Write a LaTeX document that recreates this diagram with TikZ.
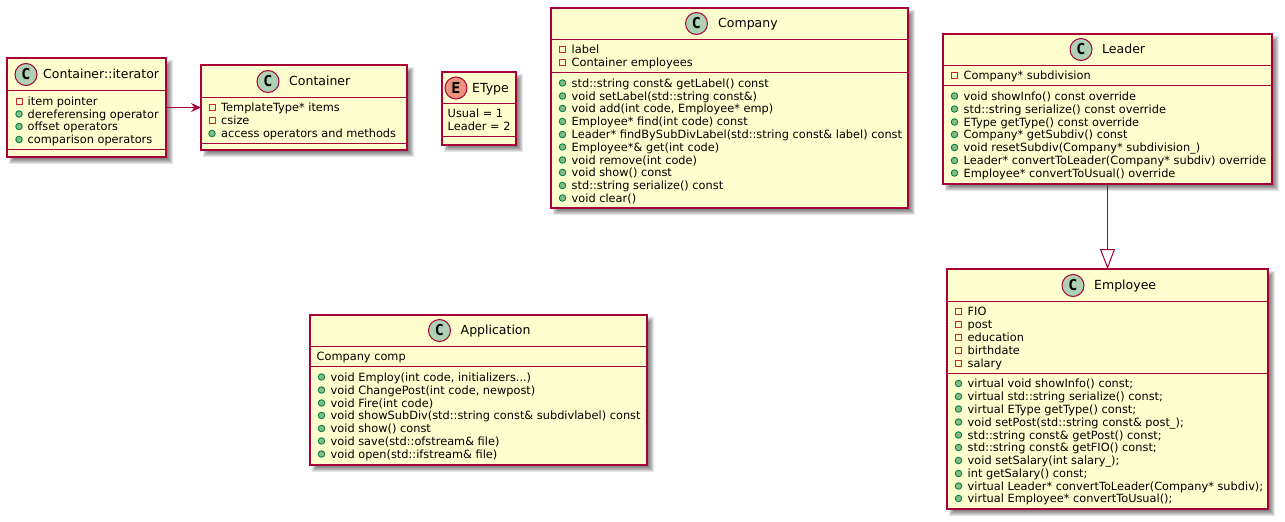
\documentclass[tikz,border=0pt]{standalone}
\usepackage{fontspec}
\setmainfont{DejaVu Sans}
\newfontfamily\letterfont{DejaVu Sans Mono}
\usetikzlibrary{arrows.meta}
\definecolor{umlborder}{HTML}{A80036}
\definecolor{umlfill}{HTML}{FEFECE}
\definecolor{umlcircle}{HTML}{ADD1B2}
\definecolor{umlenum}{HTML}{EB937F}
\definecolor{privred}{HTML}{C82930}
\definecolor{pubfill}{HTML}{84BE84}
\definecolor{publine}{HTML}{038048}
\tikzset{
  classbox/.style={draw=umlborder,line width=1.25pt,fill=umlfill,inner sep=0pt,outer sep=0pt},
  sepline/.style={draw=umlborder,line width=.9pt},
  shadowlayer/.style={fill=black,opacity=.1,draw=none},
  badge/.style={circle,draw=umlborder,line width=1pt,minimum size=22pt,inner sep=0pt,text=black,font=\letterfont\bfseries\fontsize{15}{15}\selectfont},
  titletext/.style={anchor=base west,inner sep=0pt,font=\fontsize{12.5}{14}\selectfont},
  rowtext/.style={anchor=base west,inner sep=0pt,font=\fontsize{11.35}{13}\selectfont},
  privicon/.style={rectangle,draw=privred,line width=.9pt,minimum size=6pt,inner sep=0pt},
  pubicon/.style={circle,draw=publine,fill=pubfill,line width=.9pt,minimum size=6.5pt,inner sep=0pt},
  assoc/.style={draw=umlborder,line width=1pt,-{Stealth[length=10pt,width=9pt,inset=3.5pt]}},
  inherit/.style={draw=umlborder,line width=1pt,-{Triangle[open,fill=white,length=20pt,width=15pt]}},
}
\newcounter{rowno}
% name x0 y0 x1 y1 sep1 sep2
\newcommand{\umlbox}[7]{%
  \pgfmathsetmacro{\bw}{#4-#2}\pgfmathsetmacro{\bh}{#5-#3}%
  \pgfmathsetmacro{\bx}{(#2+#4)/2}\pgfmathsetmacro{\by}{(#3+#5)/2}%
  \foreach \e in {0,1,2,3,4,5}{%
    \fill[shadowlayer] (#2+1.5+\e,#3+1.5+\e) rectangle (#4+7-\e,#5+7-\e);}%
  \node[classbox,minimum width=\bw pt,minimum height=\bh pt] (#1) at (\bx,\by) {};%
  \draw[sepline] (#2,#6) -- (#4,#6);%
  \draw[sepline] (#2,#7) -- (#4,#7);%
}
% name colour cx cy letter
\newcommand{\umlbadge}[5]{\node[badge,fill=#2] (#1) at (#3,#4) {#5};}
% name x y text
\newcommand{\umltitle}[4]{\node[titletext] (#1) at (#2,#3+4.2) {#4};}
% iconx textx y text
\newcommand{\privrow}[4]{\stepcounter{rowno}%
  \node[privicon] (pi\therowno) at (#1,#3) {};%
  \node[rowtext] (pt\therowno) at (#2,#3+4.3) {#4};}
\newcommand{\pubrow}[4]{\stepcounter{rowno}%
  \node[pubicon] (mi\therowno) at (#1,#3) {};%
  \node[rowtext] (mt\therowno) at (#2,#3+4.3) {#4};}
\newcommand{\plainrow}[3]{\stepcounter{rowno}%
  \node[rowtext] (tt\therowno) at (#1,#2+4.3) {#3};}
\begin{document}
\begin{tikzpicture}[x=1pt,y=-1pt]
\useasboundingbox (0,0) rectangle (1285,522);
% Container::iterator
\umlbox{iter}{7}{58}{166}{157}{90}{149}
\umlbadge{iterC}{umlcircle}{26}{74.5}{C}
\umltitle{iterT}{43}{74.5}{Container::iterator}
\privrow{19}{27.5}{101.5}{item pointer}
\pubrow{19}{27.5}{114}{dereferensing operator}
\pubrow{19}{27.5}{126.5}{offset operators}
\pubrow{19}{27.5}{139.5}{comparison operators}
% Container
\umlbox{cont}{201}{65}{407}{150}{97}{143}
\umlbadge{contC}{umlcircle}{268}{81.5}{C}
\umltitle{contT}{289}{81.5}{Container}
\privrow{212}{221}{107.5}{TemplateType* items}
\privrow{212}{221}{120.5}{csize}
\pubrow{212}{221}{133.5}{access operators and methods}
% EType
\umlbox{etype}{442}{72}{516}{145}{103}{136}
\umlbadge{etypeE}{umlenum}{456}{88}{E}
\umltitle{etypeT}{472}{88}{EType}
\plainrow{447.5}{113.5}{Usual = 1}
\plainrow{447.5}{126.5}{Leader = 2}
% Company
\umlbox{comp}{551}{8}{908}{208}{39}{72}
\umlbadge{compC}{umlcircle}{696.5}{23.5}{C}
\umltitle{compT}{718}{23.5}{Company}
\privrow{562.5}{571.5}{49.5}{label}
\privrow{562.5}{571.5}{62.5}{Container employees}
\pubrow{562.5}{571.5}{83}{std::string const\& getLabel() const}
\pubrow{562.5}{571.5}{96}{void setLabel(std::string const\&)}
\pubrow{562.5}{571.5}{108.5}{void add(int code, Employee* emp)}
\pubrow{562.5}{571.5}{121.5}{Employee* find(int code) const}
\pubrow{562.5}{571.5}{134.5}{Leader* findBySubDivLabel(std::string const\& label) const}
\pubrow{562.5}{571.5}{147}{Employee*\& get(int code)}
\pubrow{562.5}{571.5}{160}{void remove(int code)}
\pubrow{562.5}{571.5}{172.5}{void show() const}
\pubrow{562.5}{571.5}{185.5}{std::string serialize() const}
\pubrow{562.5}{571.5}{198}{void clear()}
% Leader
\umlbox{lead}{943}{34}{1272}{184}{65}{85}
\umlbadge{leadC}{umlcircle}{1081}{49.5}{C}
\umltitle{leadT}{1102}{49.5}{Leader}
\privrow{954.5}{963.5}{75.5}{Company* subdivision}
\pubrow{954.5}{963.5}{96}{void showInfo() const override}
\pubrow{954.5}{963.5}{109}{std::string serialize() const override}
\pubrow{954.5}{963.5}{122}{EType getType() const override}
\pubrow{954.5}{963.5}{134.5}{Company* getSubdiv() const}
\pubrow{954.5}{963.5}{147.5}{void resetSubdiv(Company* subdivision\_)}
\pubrow{954.5}{963.5}{160.5}{Leader* convertToLeader(Company* subdiv) override}
\pubrow{954.5}{963.5}{173}{Employee* convertToUsual() override}
% Employee
\umlbox{emp}{947}{269}{1268}{509}{301}{373}
\umlbadge{empC}{umlcircle}{1073}{285.5}{C}
\umltitle{empT}{1094}{285.5}{Employee}
\privrow{958.5}{967.5}{311.5}{FIO}
\privrow{958.5}{967.5}{324.5}{post}
\privrow{958.5}{967.5}{337}{education}
\privrow{958.5}{967.5}{350}{birthdate}
\privrow{958.5}{967.5}{363}{salary}
\pubrow{958.5}{967.5}{383.5}{virtual void showInfo() const;}
\pubrow{958.5}{967.5}{396.5}{virtual std::string serialize() const;}
\pubrow{958.5}{967.5}{409}{virtual EType getType() const;}
\pubrow{958.5}{967.5}{422}{void setPost(std::string const\& post\_);}
\pubrow{958.5}{967.5}{435}{std::string const\& getPost() const;}
\pubrow{958.5}{967.5}{447.5}{std::string const\& getFIO() const;}
\pubrow{958.5}{967.5}{460.5}{void setSalary(int salary\_);}
\pubrow{958.5}{967.5}{473.5}{int getSalary() const;}
\pubrow{958.5}{967.5}{486}{virtual Leader* convertToLeader(Company* subdiv);}
\pubrow{958.5}{967.5}{498.5}{virtual Employee* convertToUsual();}
% Application
\umlbox{app}{310}{315}{647}{465}{346}{366}
\umlbadge{appC}{umlcircle}{439.5}{330.5}{C}
\umltitle{appT}{460.5}{330.5}{Application}
\plainrow{316.5}{356.5}{Company comp}
\pubrow{321.5}{330.5}{377}{void Employ(int code, initializers...)}
\pubrow{321.5}{330.5}{390}{void ChangePost(int code, newpost)}
\pubrow{321.5}{330.5}{403}{void Fire(int code)}
\pubrow{321.5}{330.5}{415.5}{void showSubDiv(std::string const\& subdivlabel) const}
\pubrow{321.5}{330.5}{428.5}{void show() const}
\pubrow{321.5}{330.5}{441}{void save(std::ofstream\& file)}
\pubrow{321.5}{330.5}{454}{void open(std::ifstream\& file)}
% connectors
\draw[assoc] (iter) -- (cont);
\draw[inherit] (lead) -- (emp);
\end{tikzpicture}
\end{document}
